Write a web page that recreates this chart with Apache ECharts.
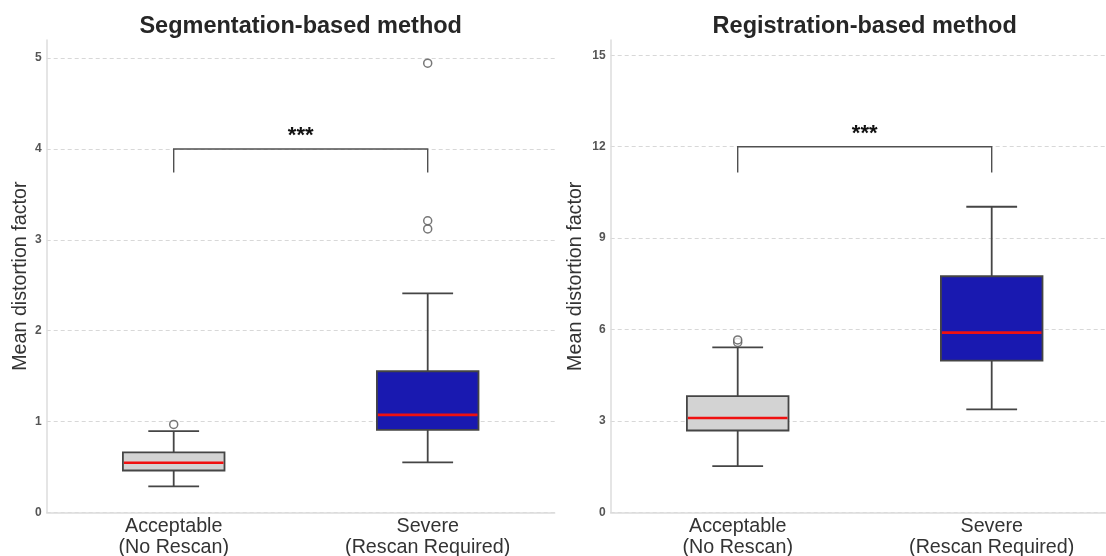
<!DOCTYPE html>
<html>
<head>
<meta charset="utf-8">
<script src="https://cdn.jsdelivr.net/npm/echarts@6/dist/echarts.min.js"></script>
<style>
  html, body { margin: 0; padding: 0; background: #fff; }
  #main { width: 1106px; height: 556px; }
</style>
</head>
<body>
<div id="main"></div>
<script>
// 데이터
var categories = ['Acceptable\n(No Rescan)', 'Severe\n(Rescan Required)'];
var boxFill = ['#d3d3d3', '#1919b0'];

// [category, low whisker, q1, median, q3, high whisker]
var segStats = [
  [0, 0.286, 0.46, 0.545, 0.659, 0.893],
  [1, 0.549, 0.908, 1.073, 1.553, 2.41]
];
var segOutliers = [[0, 0.967], [1, 3.12], [1, 3.21], [1, 4.945]];
var segBracket = [[0, 1, 3.74, 4.0]];

var regStats = [
  [0, 1.52, 2.69, 3.10, 3.82, 5.42],
  [1, 3.38, 4.98, 5.90, 7.75, 10.03]
];
var regOutliers = [[0, 5.58], [0, 5.66]];
var regBracket = [[0, 1, 11.15, 12.0]];

var segTicks = { max: 5.2, interval: 1 };
var regTicks = { max: 15.5, interval: 3 };

var fontFam = "'Liberation Sans', Arial, sans-serif";
var edgeColor = '#454545';

var dom = document.getElementById('main');
var myChart = echarts.init(dom, null, { renderer: 'canvas' });

function renderBox(params, api) {
  var x = api.value(0);
  var low = api.coord([x, api.value(1)]);
  var q1 = api.coord([x, api.value(2)]);
  var med = api.coord([x, api.value(3)]);
  var q3 = api.coord([x, api.value(4)]);
  var high = api.coord([x, api.value(5)]);
  var band = api.size([1, 0])[0];
  var bw = band * 0.4;
  var cw = bw / 2;
  var cx = low[0];
  var lineStyle = { stroke: edgeColor, lineWidth: 1.8 };
  return {
    type: 'group',
    children: [
      { type: 'line', shape: { x1: cx, y1: low[1], x2: cx, y2: q1[1] }, style: lineStyle },
      { type: 'line', shape: { x1: cx, y1: q3[1], x2: cx, y2: high[1] }, style: lineStyle },
      { type: 'line', shape: { x1: cx - cw / 2, y1: low[1], x2: cx + cw / 2, y2: low[1] }, style: lineStyle },
      { type: 'line', shape: { x1: cx - cw / 2, y1: high[1], x2: cx + cw / 2, y2: high[1] }, style: lineStyle },
      {
        type: 'rect',
        shape: { x: cx - bw / 2, y: q3[1], width: bw, height: q1[1] - q3[1] },
        style: { fill: boxFill[x], stroke: edgeColor, lineWidth: 1.8 }
      },
      { type: 'line', shape: { x1: cx - bw / 2 + 1, y1: med[1], x2: cx + bw / 2 - 1, y2: med[1] },
        style: { stroke: '#f01010', lineWidth: 2.6 } }
    ]
  };
}

function renderBracket(params, api) {
  var a = api.value(0), b = api.value(1);
  var p0 = api.coord([a, api.value(2)]);
  var p1 = api.coord([a, api.value(3)]);
  var p2 = api.coord([b, api.value(3)]);
  var p3 = api.coord([b, api.value(2)]);
  return {
    type: 'group',
    children: [
      {
        type: 'polyline',
        shape: { points: [p0, p1, p2, p3] },
        style: { stroke: '#505050', lineWidth: 1.4, fill: null }
      },
      {
        type: 'text',
        style: {
          text: '***', x: (p1[0] + p2[0]) / 2, y: p1[1] - 2,
          align: 'center', verticalAlign: 'bottom',
          font: 'bold 22px ' + fontFam, fill: '#111'
        }
      }
    ]
  };
}

function makeXAxis(gridIndex) {
  return {
    type: 'category',
    gridIndex: gridIndex,
    data: categories,
    axisLine: { lineStyle: { color: '#dcdcdc', width: 1.5 } },
    axisTick: { show: false },
    axisLabel: { fontSize: 19.7, lineHeight: 21, color: '#333', margin: 4, fontFamily: fontFam }
  };
}

function makeYAxis(gridIndex, ticks, gap) {
  return {
    type: 'value',
    gridIndex: gridIndex,
    min: 0,
    max: ticks.max,
    interval: ticks.interval,
    name: 'Mean distortion factor',
    nameLocation: 'middle',
    nameGap: gap,
    nameTextStyle: { fontSize: 19.7, color: '#333', fontFamily: fontFam },
    axisLine: { show: true, lineStyle: { color: '#dcdcdc', width: 1.5 } },
    axisTick: { show: false },
    axisLabel: { fontSize: 12, color: '#555', fontWeight: 'bold', margin: 5, showMaxLabel: false, fontFamily: fontFam },
    splitLine: { show: true, showMaxLine: false, lineStyle: { color: '#d8d8d8', type: [4, 3], width: 1 } }
  };
}

var option = {
  animation: false,
  textStyle: { fontFamily: fontFam },
  title: [
    { text: 'Segmentation-based method', left: 300.7, top: 15, textAlign: 'center', padding: 0,
      textStyle: { fontSize: 23.5, fontWeight: 'bold', color: '#262626', fontFamily: fontFam } },
    { text: 'Registration-based method', left: 864.7, top: 15, textAlign: 'center', padding: 0,
      textStyle: { fontSize: 23.5, fontWeight: 'bold', color: '#262626', fontFamily: fontFam } }
  ],
  grid: [
    { left: 46.7, top: 40, width: 508, height: 472.3, outerBoundsMode: 'none', containLabel: false },
    { left: 610.7, top: 40, width: 508, height: 472.5, outerBoundsMode: 'none', containLabel: false }
  ],
  xAxis: [makeXAxis(0), makeXAxis(1)],
  yAxis: [makeYAxis(0, segTicks, 16), makeYAxis(1, regTicks, 25)],
  series: [
    { type: 'custom', xAxisIndex: 0, yAxisIndex: 0, renderItem: renderBox, data: segStats,
      encode: { x: 0, y: [1, 5] }, clip: false },
    { type: 'custom', xAxisIndex: 1, yAxisIndex: 1, renderItem: renderBox, data: regStats,
      encode: { x: 0, y: [1, 5] }, clip: false },
    { type: 'scatter', xAxisIndex: 0, yAxisIndex: 0, data: segOutliers, symbol: 'circle', symbolSize: 8,
      itemStyle: { color: '#fff', borderColor: '#555', borderWidth: 1.5 } },
    { type: 'scatter', xAxisIndex: 1, yAxisIndex: 1, data: regOutliers, symbol: 'circle', symbolSize: 8,
      itemStyle: { color: '#fff', borderColor: '#555', borderWidth: 1.5 } },
    { type: 'custom', xAxisIndex: 0, yAxisIndex: 0, renderItem: renderBracket, data: segBracket,
      encode: { x: 0, y: 3 }, clip: false },
    { type: 'custom', xAxisIndex: 1, yAxisIndex: 1, renderItem: renderBracket, data: regBracket,
      encode: { x: 0, y: 3 }, clip: false }
  ]
};

if (option && typeof option === 'object') {
  myChart.setOption(option);
}

window.addEventListener('resize', myChart.resize);
</script>
</body>
</html>
